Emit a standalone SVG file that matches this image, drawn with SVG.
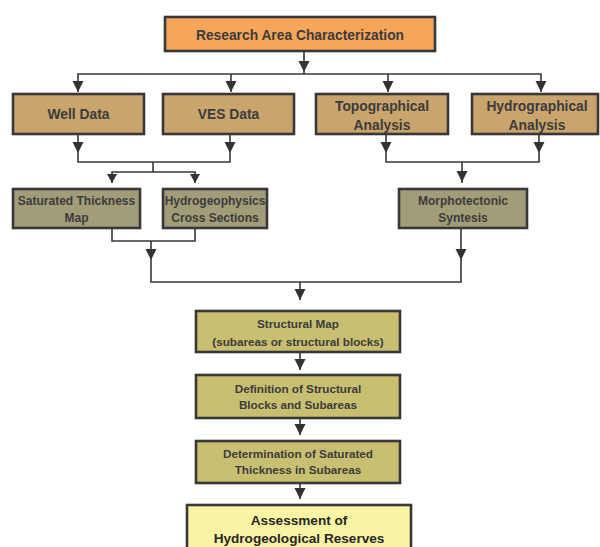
<svg xmlns="http://www.w3.org/2000/svg" width="600" height="547" viewBox="0 0 600 547">
<defs>
<style>
.box{stroke:#383838;stroke-width:2.6}
.orange{fill:#F7A55B}
.tan{fill:#C9A46C}
.olive{fill:#A19D78}
.khaki{fill:#C9BF70}
.yellow{fill:#FAF4A5}
text{font-family:"Liberation Sans",Arial,sans-serif;font-weight:bold;fill:#3c3c3c;text-anchor:middle}
.t14{font-size:13.8px}
.t12{font-size:12px}
.t115{font-size:11.7px}
.big{font-size:13.6px;fill:#262626}
.ln{fill:none;stroke:#383838;stroke-width:1.6}
.ah{fill:#333333}
</style>
<path id="ah" d="M-5.5,-11 L5.5,-11 L0,0 Z"/>
<path id="ahs" d="M-5,-9 L5,-9 L0,0 Z"/>
</defs>
<rect width="600" height="547" fill="#ffffff"/>

<g id="n-research"><rect class="box orange" x="165" y="17" width="270" height="34"/><text class="t14" x="300" y="40">Research Area Characterization</text></g>

<g id="n-well"><rect class="box tan" x="13" y="94" width="131" height="40"/><text class="t14" x="78.5" y="119">Well Data</text></g>
<g id="n-ves"><rect class="box tan" x="163" y="94" width="131" height="40"/><text class="t14" x="228.5" y="119">VES Data</text></g>
<g id="n-topo"><rect class="box tan" x="316" y="94" width="132" height="40"/><text class="t14" x="382" y="111">Topographical</text><text class="t14" x="382" y="130">Analysis</text></g>
<g id="n-hydro"><rect class="box tan" x="472" y="94" width="126" height="40"/><text class="t14" x="537" y="111">Hydrographical</text><text class="t14" x="537" y="130">Analysis</text></g>

<g id="n-satmap"><rect class="box olive" x="13" y="189" width="127" height="39"/><text class="t12" x="76.5" y="205">Saturated Thickness</text><text class="t12" x="76.5" y="222">Map</text></g>
<g id="n-hydrogeo"><rect class="box olive" x="163" y="189" width="104" height="39"/><text class="t12" x="215" y="205">Hydrogeophysics</text><text class="t12" x="215" y="222">Cross Sections</text></g>
<g id="n-morpho"><rect class="box olive" x="399" y="189" width="128" height="39"/><text class="t12" x="463" y="205">Morphotectonic</text><text class="t12" x="463" y="222">Syntesis</text></g>

<g id="n-structural"><rect class="box khaki" x="196" y="311" width="204" height="41"/><text class="t115" x="298" y="328">Structural Map</text><text class="t115" x="298" y="346">(subareas or structural blocks)</text></g>
<g id="n-definition"><rect class="box khaki" x="196" y="375" width="204" height="43"/><text class="t115" x="298" y="392.5">Definition of Structural</text><text class="t115" x="298" y="408.5">Blocks and Subareas</text></g>
<g id="n-determination"><rect class="box khaki" x="196" y="441" width="204" height="42"/><text class="t115" x="298" y="458">Determination of Saturated</text><text class="t115" x="298" y="474">Thickness in Subareas</text></g>
<g id="n-assessment"><rect class="box yellow" x="187" y="505" width="224" height="46"/><text class="big" x="299" y="524.5">Assessment of</text><text class="big" x="299" y="542.5">Hydrogeological Reserves</text></g>

<g id="connectors">
<path class="ln" d="M304,51 V74 M78,92 V74 H541 V92 M231,74 V92 M388,74 V92"/>
<path class="ln" d="M78,134 V162 H230 V134 M153,162 V172 M112,183 V172 H195 V183"/>
<path class="ln" d="M386,134 V162 H539 V134 M462,162 V183"/>
<path class="ln" d="M112,228 V241 H195 V228 M151,241 V282 H461 V228 M300,282 V300"/>
<path class="ln" d="M300,352 V370 M300,418 V435 M300,483 V499"/>
<g class="ah">
<use href="#ah" x="304" y="72"/>
<use href="#ah" x="78" y="92"/><use href="#ah" x="231" y="92"/><use href="#ah" x="388" y="92"/><use href="#ah" x="541" y="92"/>
<use href="#ah" x="78" y="153"/><use href="#ah" x="230" y="153"/><use href="#ah" x="386" y="153"/><use href="#ah" x="539" y="153"/>
<use href="#ahs" x="112" y="183"/><use href="#ahs" x="195" y="183"/><use href="#ah" x="462" y="182"/>
<use href="#ah" x="151" y="260"/><use href="#ah" x="461" y="260"/>
<use href="#ah" x="300" y="300"/>
<use href="#ah" x="300" y="370"/><use href="#ah" x="300" y="435"/><use href="#ah" x="300" y="499"/>
</g>
</g>
</svg>
